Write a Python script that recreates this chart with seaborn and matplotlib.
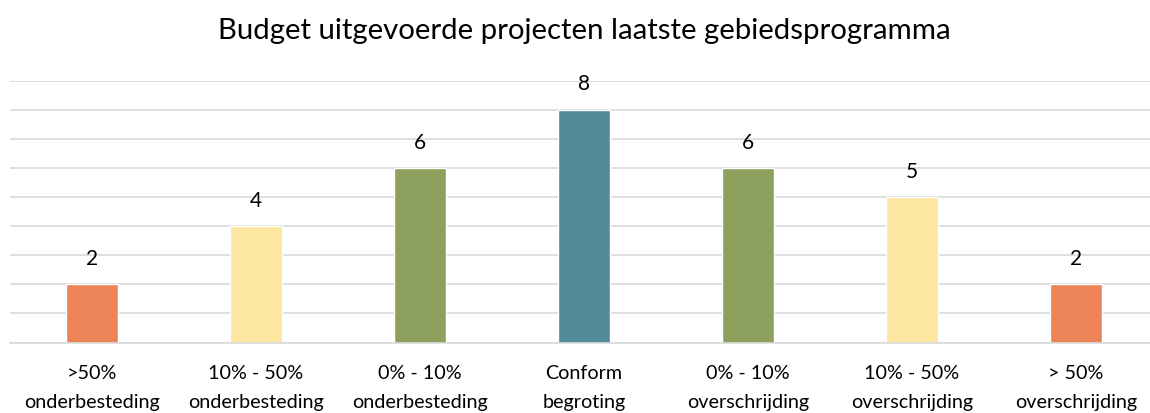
import matplotlib
matplotlib.use("Agg")
import matplotlib.pyplot as plt
import seaborn as sns
import pandas as pd

categories = [">50%\nonderbesteding", "10% - 50%\nonderbesteding", "0% - 10%\nonderbesteding",
              "Conform\nbegroting", "0% - 10%\noverschrijding", "10% - 50%\noverschrijding",
              "> 50%\noverschrijding"]
values = [2, 4, 6, 8, 6, 5, 2]
colors = ["#EC8458", "#FDE6A0", "#8EA05E", "#528C99", "#8EA05E", "#FDE6A0", "#EC8458"]
title = "Budget uitgevoerde projecten laatste gebiedsprogramma"

sns.set_theme(style="white")
plt.rcParams['font.family'] = ['Lato', 'DejaVu Sans']

df = pd.DataFrame({"cat": categories, "val": values})

fig = plt.figure(figsize=(11.5, 4.13), dpi=100)
ax = fig.add_axes([10/1150, 70.5/413, 1148/1150, 262/413])
sns.barplot(data=df, x="cat", y="val", hue="cat", palette=colors, legend=False,
            width=0.317, ax=ax, saturation=1)
ax.set_ylim(0, 9)
ax.set_yticks(range(0, 10))
ax.yaxis.grid(True, color="#D9D9D9", linewidth=1.2)
ax.set_axisbelow(True)
ax.tick_params(axis="y", left=False, labelleft=False)
ax.set_xticks(range(len(categories)))
ax.set_xticklabels(categories, linespacing=1.9)
ax.tick_params(axis="x", bottom=False, labelsize=14.2, colors="#000000", pad=10)
for s in ["top", "right", "left"]:
    ax.spines[s].set_visible(False)
ax.spines["bottom"].set_color("#D9D9D9")
ax.spines["bottom"].set_linewidth(1.2)
ax.set_xlabel("")
ax.set_ylabel("")

for c in ax.containers:
    ax.bar_label(c, padding=11, fontsize=15, color="#000000")

fig.text(584/1150, 1 - 38.5/413, title, ha="center", va="baseline", fontsize=21.2, color="#000000")
fig.savefig("out.png", dpi=100)
